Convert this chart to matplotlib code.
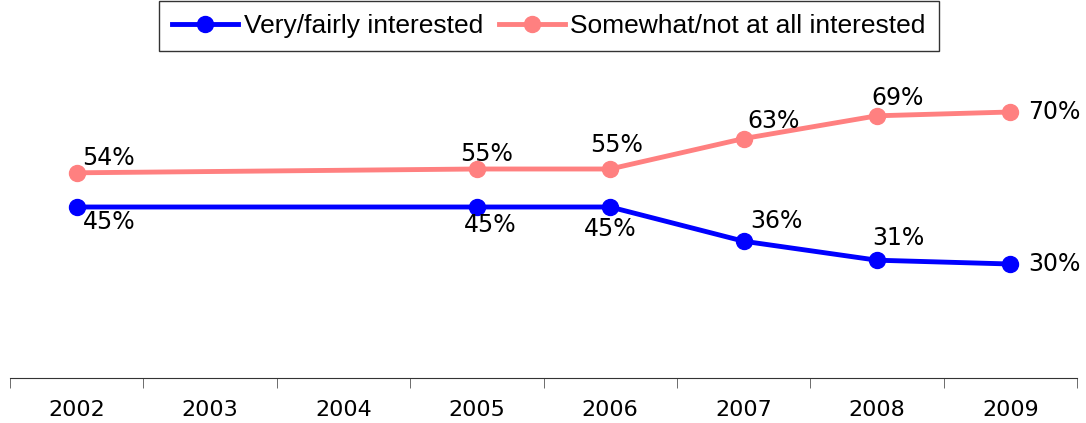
import numpy as np
import matplotlib.pyplot as plt

years = ['2002', '2003', '2004', '2005', '2006', '2007', '2008', '2009']
point_years = ['2002', '2005', '2006', '2007', '2008', '2009']
very_fairly = [45, 45, 45, 36, 31, 30]
somewhat_not = [54, 55, 55, 63, 69, 70]

# label offsets in pixels (style, not data)
blue_off = [(32, -15), (13, -18), (0, -22), (33, 20), (21, 22), (44, 0)]
pink_off = [(32, 15), (10, 15), (6, 24), (30, 18), (21, 18), (44, 0)]

fig = plt.figure(figsize=(10.86, 4.23), dpi=100)
ax = fig.add_axes([10 / 1086, 1 - 378 / 423, 1067 / 1086, 380 / 423])

x = np.array([years.index(y) for y in point_years])
blue = '#0000FF'
pink = '#FF8080'
ax.plot(x, very_fairly, color=blue, lw=3.5, marker='o', ms=11.5, label='Very/fairly interested')
ax.plot(x, somewhat_not, color=pink, lw=3.5, marker='o', ms=11.5, label='Somewhat/not at all interested')

for xi, v, off in zip(x, very_fairly, blue_off):
    ax.annotate(f'{v}%', (xi, v), xytext=off, textcoords='offset pixels',
                ha='center', va='center', fontsize=17, color='black')
for xi, v, off in zip(x, somewhat_not, pink_off):
    ax.annotate(f'{v}%', (xi, v), xytext=off, textcoords='offset pixels',
                ha='center', va='center', fontsize=17, color='black')

ax.set_xlim(-0.5, len(years) - 0.5)
ax.set_ylim(0, 100)
ax.set_xticks(range(len(years)))
ax.set_xticklabels(years, fontsize=16)
ax.set_xticks(np.arange(-0.5, len(years)), minor=True)
ax.tick_params(axis='x', which='major', length=0, pad=16)
ax.tick_params(axis='x', which='minor', length=7, color='#555555')
ax.set_yticks([])
for s in ['left', 'right', 'top']:
    ax.spines[s].set_visible(False)
ax.spines['bottom'].set_color('#333333')

leg = ax.legend(loc='upper center', bbox_to_anchor=(0.505, 1.0), ncol=2, frameon=True,
                fancybox=False, edgecolor='black', handlelength=2.5, columnspacing=0.6,
                handletextpad=0.2, borderaxespad=0.1, borderpad=0.5,
                prop={'family': ['Liberation Sans Narrow', 'Liberation Sans'], 'size': 19})
leg.get_frame().set_linewidth(1.0)

fig.savefig('out.png', dpi=100)
